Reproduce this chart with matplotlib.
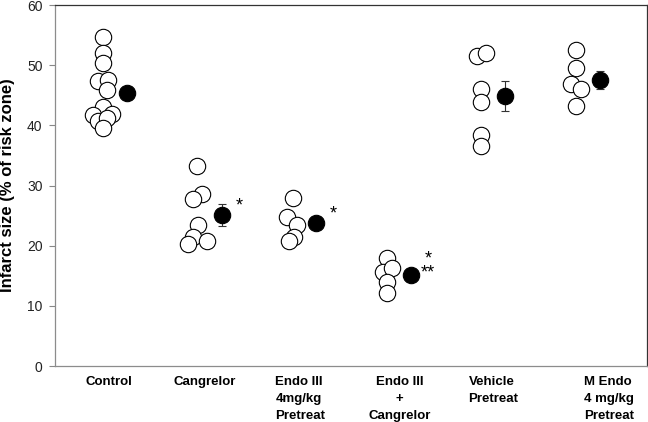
import matplotlib
matplotlib.use('Agg')
import matplotlib.pyplot as plt

plt.rcParams['font.family'] = ['Liberation Sans', 'DejaVu Sans']

# group names (x axis)
groups = ['Control', 'Cangrelor', 'Endo III\n4mg/kg\nPretreat', 'Endo III\n+\nCangrelor',
          'Vehicle\nPretreat', 'M Endo\n4 mg/kg\nPretreat']

# individual infarct sizes (% of risk zone)
control = [54.7, 52.0, 50.3, 47.3, 47.5, 45.8, 43.1, 41.8, 41.9, 40.8, 41.2, 39.5]
cangrelor = [33.3, 28.6, 27.7, 23.5, 21.5, 20.2, 20.8]
endo_pre = [28.0, 24.7, 23.4, 21.5, 20.8]
endo_cang = [17.9, 15.7, 16.3, 14.0, 12.2]
vehicle = [51.6, 52.1, 46.0, 43.9, 38.4, 36.6]
mendo_pre = [52.6, 49.5, 46.8, 46.0, 43.3]

# group means and SEM
means = [45.4, 25.1, 23.8, 15.1, 44.9, 47.6]
sems = [0.9, 1.8, 0.9, 0.8, 2.5, 1.5]

# significance marks
signif = ['', '*', '*', '*\n**', '', '']

# horizontal scatter of the open circles (layout only)
jitter = [
    [0, 0, 0, -0.05, 0.05, 0.045, 0, -0.105, 0.10, -0.05, 0.045, 0],
    [-0.01, 0.05, -0.05, 0, -0.05, -0.105, 0.095],
    [0.01, -0.05, 0.05, 0.02, -0.03],
    [0, -0.045, 0.05, 0, 0],
    [-0.05, 0.05, 0, 0, 0, 0],
    [0, 0, -0.05, 0.05, 0],
]

values = [control, cangrelor, endo_pre, endo_cang, vehicle, mendo_pre]

fig = plt.figure(figsize=(6.48, 4.22), dpi=100)
ax = fig.add_axes([0.0849, 0.1327, 0.9136, 0.8553])

for i, vals in enumerate(values):
    gx = i + 1
    xs = [gx + j for j in jitter[i]]
    ax.plot(xs, vals, 'o', ms=11.8, mfc='white', mec='black', mew=0.8, ls='none', zorder=3)
    ax.errorbar(gx + 0.254, means[i], yerr=sems[i], fmt='none', ecolor='#333333',
                elinewidth=0.8, capsize=2.6, capthick=0.8, zorder=2)
    ax.plot(gx + 0.254, means[i], 'o', ms=11.8, mfc='black', mec='black', mew=0.8, zorder=4)
    if signif[i]:
        ax.annotate(signif[i], (gx + 0.254, means[i]), xytext=(12.5, 6.5),
                    textcoords='offset points', ha='center', va='center',
                    fontsize=13, linespacing=0.75)

ax.set_xlim(0.493, 6.75)
ax.set_ylim(0, 60)
ax.set_yticks([0, 10, 20, 30, 40, 50, 60])
ax.tick_params(axis='y', direction='out', length=4, width=0.8, color='#888888',
               pad=5, labelsize=10, labelcolor='#222222')

# x labels as ticks without marks
label_off = [0.063, 0.074, 0.085, 0.137, 0.127, 0.35]
ax.set_xticks([i + 1 + label_off[i] for i in range(6)])
ax.set_xticklabels(groups, fontsize=9.5, fontweight='bold', linespacing=1.55)
ax.tick_params(axis='x', length=0, pad=7)
for k, t in enumerate(ax.get_xticklabels()):
    if k in (2, 4, 5):
        t.set_multialignment('left')
    else:
        t.set_multialignment('center')

ax.set_ylabel('Infarct size (% of risk zone)', fontsize=12, fontweight='bold')
ax.yaxis.set_label_coords(-0.0676, 0.5)

ax.spines['left'].set_color('#8c8c8c')
ax.spines['bottom'].set_color('#8c8c8c')
ax.spines['top'].set_color('#333333')
ax.spines['right'].set_color('#333333')
for s in ax.spines.values():
    s.set_linewidth(0.9)

fig.savefig('out.png', dpi=100)
